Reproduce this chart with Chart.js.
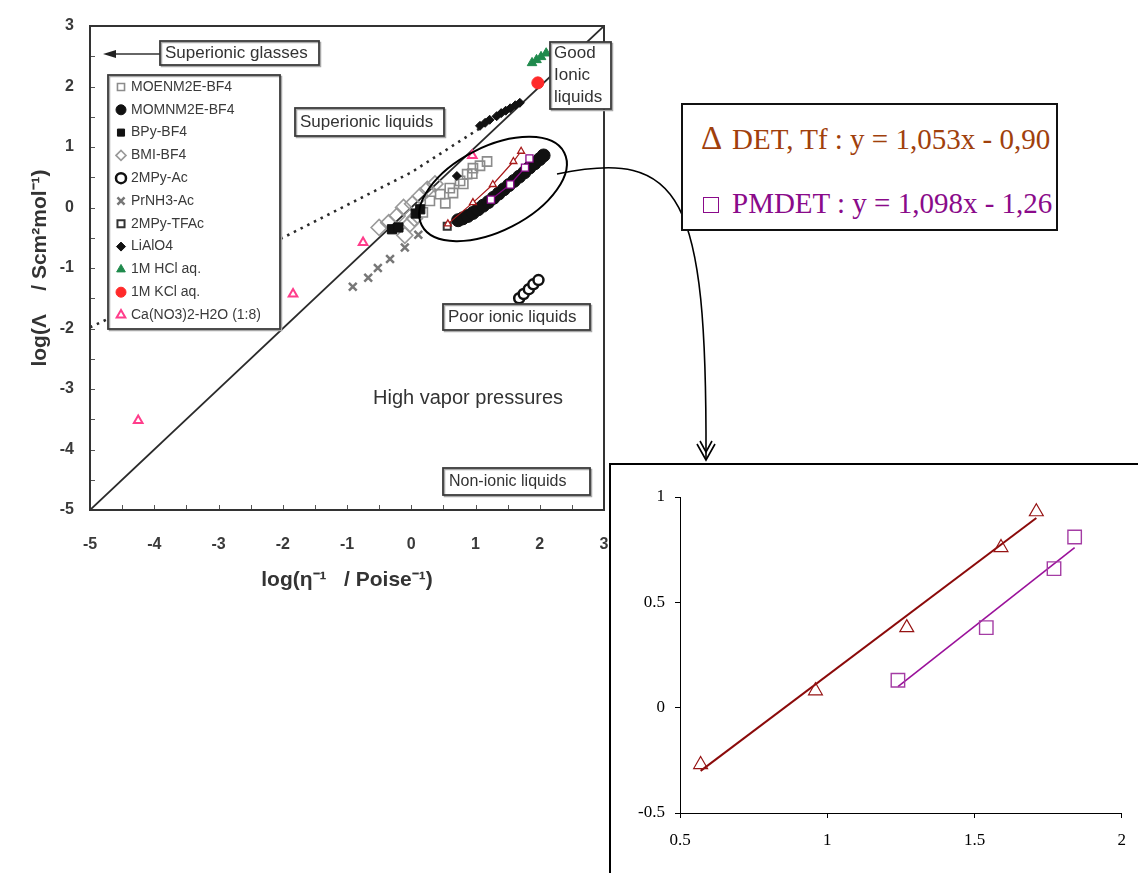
<!DOCTYPE html>
<html><head><meta charset="utf-8">
<script src="https://cdn.jsdelivr.net/npm/chart.js@4.4.1/dist/chart.umd.min.js"></script>
<style>
html,body{margin:0;padding:0;background:#fff;}
body{width:1138px;height:873px;overflow:hidden;position:relative;}
#main{position:absolute;left:0;top:0;}
#insetBox{position:absolute;left:609px;top:463px;width:529px;height:410px;border-left:2px solid #000;border-top:2px solid #000;background:#fff;box-sizing:border-box;}
#inset{position:absolute;left:0;top:0;}
#eq{position:absolute;left:681px;top:103px;width:377px;height:128px;border:2px solid #111;box-sizing:border-box;background:#fff;font-family:"Liberation Serif","Times New Roman",serif;}
#eq span{position:absolute;white-space:pre;line-height:29px;}
.l1{color:#a0400c;font-size:29px;}
.l2{color:#8a0a8a;font-size:29px;}
.sq{width:14px;height:14px;border:1.5px solid #8a0a8a;}
</style></head>
<body>
<canvas id="main" width="1138" height="873"></canvas>
<div id="insetBox"><canvas id="inset" width="527" height="408"></canvas></div>
<div id="eq">
  <span class="l1" style="left:18px;top:17px;font-size:33px;line-height:33px;">Δ</span>
  <span class="l1" style="left:49px;top:20px;">DET, Tf : y = 1,053x - 0,90</span>
  <span class="sq" style="left:20px;top:92px;"></span>
  <span class="l2" style="left:49px;top:84px;">PMDET : y = 1,098x - 1,26</span>
</div>
<script>
// ---------- data ----------
const waldenIdeal   = [[-5,-5],[3,3]];
const dottedBoundary= [[-5,-1.98],[-2,-0.5],[0,0.58],[1.2,1.4]];
const moenm2eBF4 = [[0.18,-0.08],[0.29,0.11],[0.45,0.22],[0.53,0.07],[0.6,0.32],[0.65,0.24],[0.76,0.44],[0.81,0.39],[0.87,0.55],[0.95,0.56],[0.96,0.65],[1.07,0.69],[1.18,0.76]];
const momnm2eBF4 = [[0.73,-0.21],[0.8,-0.18],[0.88,-0.14],[0.96,-0.09],[1.04,-0.03],[1.12,0.03],[1.2,0.09],[1.28,0.16],[1.36,0.23],[1.44,0.3],[1.52,0.37],[1.6,0.44],[1.68,0.51],[1.76,0.58],[1.84,0.66],[1.92,0.73],[2.0,0.8],[2.06,0.86]];
const bpyBF4     = [[-0.3,-0.36],[-0.2,-0.33],[0.07,-0.1],[0.14,-0.03]];
const bmiBF4     = [[-0.5,-0.33],[-0.35,-0.25],[-0.22,-0.14],[-0.12,0.0],[0.02,0.06],[0.14,0.19],[0.25,0.3],[0.37,0.39],[-0.02,-0.27],[-0.1,-0.46],[0.05,-0.18]];
const mpyAc      = [[1.68,-1.5],[1.75,-1.43],[1.83,-1.35],[1.9,-1.27],[1.98,-1.2]];
const prnh3Ac    = [[-0.91,-1.31],[-0.67,-1.16],[-0.52,-1.0],[-0.33,-0.85],[-0.1,-0.66],[0.11,-0.45]];
const mpyTFAc    = [[0.56,-0.31]];
const lialo4     = [[0.71,0.52],[1.07,1.35],[1.15,1.4],[1.22,1.45],[1.33,1.51],[1.4,1.56],[1.47,1.6],[1.54,1.64],[1.62,1.69],[1.69,1.73]];
const hclAq      = [[1.88,2.39],[1.95,2.44],[2.02,2.49],[2.1,2.55]];
const kclAq      = [[1.97,2.06]];
const caNO3      = [[-4.25,-3.52],[-1.84,-1.43],[-0.75,-0.58],[0.95,0.86]];
const detTf      = [[0.57,-0.27],[0.96,0.08],[1.27,0.38],[1.59,0.76],[1.71,0.93]];
const pmdet      = [[1.24,0.13],[1.54,0.38],[1.77,0.66],[1.84,0.81]];
const detFit     = [[0.57,-0.30],[1.71,0.90]];
const pmdetFit   = [[1.24,0.10],[1.84,0.76]];
const mainTicks  = [-5,-4,-3,-2,-1,0,1,2,3];
const insetXTicks= [0.5,1,1.5,2];
const insetYTicks= [-0.5,0,0.5,1];

const pts = a => a.map(p => ({x:p[0], y:p[1]}));
const T = 'rgba(0,0,0,0)';
const SANS = '"Liberation Sans", Arial, sans-serif';
const SERIF = '"Liberation Serif", "Times New Roman", serif';
const plain = v => String(v);

function sc(label, arr, o){
  return Object.assign({label, data: pts(arr), showLine:false, pointRadius:5, pointHoverRadius:5, pointBorderWidth:1, leg:true}, o);
}

const mainDatasets = [
  {label:'Ideal', data:pts(waldenIdeal), showLine:true, borderColor:'#2a2a2a', borderWidth:1.8, pointRadius:0, order:40},
  {label:'Boundary', data:pts(dottedBoundary), showLine:true, borderColor:'#2a2a2a', borderWidth:2.6, borderDash:[2.5,5], pointRadius:0, order:39},
  sc('MOENM2E-BF4', moenm2eBF4, {pointStyle:'rect', pointRadius:6.5, pointBorderColor:'#8c8c8c', pointBackgroundColor:T, pointBorderWidth:1.6, order:30}),
  sc('MOMNM2E-BF4', momnm2eBF4, {pointStyle:'circle', pointRadius:6.5, pointBorderColor:'#111', pointBackgroundColor:'#111', order:12}),
  sc('BPy-BF4', bpyBF4, {pointStyle:'rect', pointRadius:6.5, pointBorderColor:'#111', pointBackgroundColor:'#111', order:13}),
  sc('BMI-BF4', bmiBF4, {pointStyle:'rectRot', pointRadius:8, pointBorderColor:'#999', pointBackgroundColor:T, pointBorderWidth:1.6, order:31}),
  sc('2MPy-Ac', mpyAc, {pointStyle:'circle', pointRadius:5, pointBorderColor:'#111', pointBackgroundColor:'#fff', pointBorderWidth:2.5, order:14}),
  sc('PrNH3-Ac', prnh3Ac, {pointStyle:'crossRot', pointRadius:5.5, pointBorderColor:'#777', pointBackgroundColor:'#777', pointBorderWidth:2.5, order:15}),
  sc('2MPy-TFAc', mpyTFAc, {pointStyle:'rect', pointRadius:5, pointBorderColor:'#333', pointBackgroundColor:'#fff', pointBorderWidth:2, order:16}),
  sc('LiAlO4', lialo4, {pointStyle:'rectRot', pointRadius:4.5, pointBorderColor:'#111', pointBackgroundColor:'#111', order:17}),
  sc('1M HCl aq.', hclAq, {pointStyle:'triangle', pointRadius:5.5, pointBorderColor:'#1f8a4c', pointBackgroundColor:'#1f8a4c', order:18}),
  sc('1M KCl aq.', kclAq, {pointStyle:'circle', pointRadius:6, pointBorderColor:'#ff2a2a', pointBackgroundColor:'#ff2a2a', order:19}),
  sc('Ca(NO3)2-H2O (1:8)', caNO3, {pointStyle:'triangle', pointRadius:5, pointBorderColor:'#ff3d8b', pointBackgroundColor:'#fff', pointBorderWidth:2, order:20}),
  {label:'DET, Tf', data:pts(detTf), showLine:true, borderColor:'#a81a1a', borderWidth:1.2, pointStyle:'triangle', pointRadius:4, pointBorderColor:'#a81a1a', pointBackgroundColor:'#fff', pointBorderWidth:1.3, order:1},
  {label:'PMDET', data:pts(pmdet), showLine:true, borderColor:'#8a0a8a', borderWidth:1.2, pointStyle:'rect', pointRadius:5, pointBorderColor:'#8a0a8a', pointBackgroundColor:'#fff', pointBorderWidth:1.3, order:2}
];

function marker(ctx, ds, x, y){
  ctx.save();
  ctx.fillStyle = ds.pointBackgroundColor; ctx.strokeStyle = ds.pointBorderColor; ctx.lineWidth = ds.pointBorderWidth;
  const o = {pointStyle: ds.pointStyle, rotation:0, radius: ds.pointRadius, borderWidth: ds.pointBorderWidth};
  if (Chart.helpers && Chart.helpers.drawPoint) Chart.helpers.drawPoint(ctx, o, x, y);
  else { ctx.beginPath(); ctx.arc(x,y,o.radius,0,Math.PI*2); ctx.fill(); ctx.stroke(); }
  ctx.restore();
}

function box(ctx, x1, y1, x2, y2){
  ctx.save();
  ctx.fillStyle = '#fff'; ctx.fillRect(x1, y1, x2-x1, y2-y1);
  ctx.strokeStyle = '#a8a8a8'; ctx.lineWidth = 1.5; ctx.strokeRect(x1+1.5, y1+1.5, x2-x1, y2-y1);
  ctx.strokeStyle = '#3a3a3a'; ctx.lineWidth = 1.8; ctx.strokeRect(x1, y1, x2-x1, y2-y1);
  ctx.restore();
}
function txt(ctx, s, x, y, size, opt){
  ctx.save();
  ctx.font = (opt && opt.bold ? 'bold ' : '') + size + 'px ' + SANS;
  ctx.fillStyle = (opt && opt.color) || '#333';
  ctx.textBaseline = 'middle'; ctx.textAlign = 'left';
  ctx.fillText(s, x, y);
  ctx.restore();
}

const annotPlugin = {
  id: 'annot',
  afterDatasetsDraw(chart){
    const ctx = chart.ctx, a = chart.chartArea, xs = chart.scales.x, ys = chart.scales.y;
    ctx.save();
    // inner minor ticks every 0.5
    ctx.strokeStyle = '#555'; ctx.lineWidth = 1;
    for (let i = 0; i <= 16; i++){
      const v = -5 + i*0.5;
      const px = Math.round(xs.getPixelForValue(v)) + 0.5;
      ctx.beginPath(); ctx.moveTo(px, a.bottom); ctx.lineTo(px, a.bottom-5); ctx.stroke();
      const py = Math.round(ys.getPixelForValue(v)) + 0.5;
      ctx.beginPath(); ctx.moveTo(a.left, py); ctx.lineTo(a.left+5, py); ctx.stroke();
    }
    // frame
    ctx.strokeStyle = '#333'; ctx.lineWidth = 2;
    ctx.strokeRect(a.left, a.top, a.right-a.left, a.bottom-a.top);

    // Superionic glasses box + arrow
    box(ctx, 160, 41, 319, 65);
    txt(ctx, 'Superionic glasses', 165, 53.5, 17);
    ctx.strokeStyle = '#333'; ctx.lineWidth = 1.5;
    ctx.beginPath(); ctx.moveTo(160, 54); ctx.lineTo(112, 54); ctx.stroke();
    ctx.fillStyle = '#222';
    ctx.beginPath(); ctx.moveTo(103, 54); ctx.lineTo(116, 50); ctx.lineTo(116, 58); ctx.closePath(); ctx.fill();

    box(ctx, 295, 108, 444, 136);
    txt(ctx, 'Superionic liquids', 300, 122, 17);

    box(ctx, 550, 42, 611, 109);
    txt(ctx, 'Good', 554, 53, 17);
    txt(ctx, 'Ionic', 554, 75, 17);
    txt(ctx, 'liquids', 554, 97, 17);

    box(ctx, 443, 304, 590, 330);
    txt(ctx, 'Poor ionic liquids', 448, 317, 17);

    box(ctx, 443, 468, 590, 495);
    txt(ctx, 'Non-ionic liquids', 449, 481.5, 16);

    txt(ctx, 'High vapor pressures', 373, 398, 20);

    // legend
    box(ctx, 108, 75, 280, 329);
    let row = 0;
    chart.data.datasets.forEach(ds => {
      if (!ds.leg) return;
      const y = 87 + row*22.8;
      marker(ctx, Object.assign({}, ds, {pointRadius: Math.min(ds.pointRadius, 5)}), 121, y);
      txt(ctx, ds.label, 131, y, 14, {color:'#3a3a3a'});
      row++;
    });

    // ellipse around the new data
    ctx.strokeStyle = '#000'; ctx.lineWidth = 2;
    ctx.beginPath(); ctx.ellipse(493, 189, 80, 42, -27*Math.PI/180, 0, Math.PI*2); ctx.stroke();
    // curved arrow to the inset
    ctx.lineWidth = 1.6;
    ctx.beginPath(); ctx.moveTo(557, 174); ctx.bezierCurveTo(682, 148, 707, 195, 706, 458); ctx.stroke();
    ctx.beginPath(); ctx.moveTo(697, 444); ctx.lineTo(706, 460); ctx.lineTo(715, 444); ctx.stroke();
    ctx.beginPath(); ctx.moveTo(700, 441); ctx.lineTo(706, 452); ctx.lineTo(712, 441); ctx.stroke();
    ctx.restore();
  }
};

new Chart(document.getElementById('main'), {
  type: 'scatter',
  data: { datasets: mainDatasets },
  options: {
    responsive:false, animation:false, devicePixelRatio:1,
    layout: { padding: { left:0, right:534, top:26, bottom:277 } },
    plugins: { legend:{display:false}, tooltip:{enabled:false} },
    scales: {
      x: { type:'linear', min:-5, max:3,
           afterFit: s => { s.height = 86; },
           afterBuildTicks: s => { s.ticks = mainTicks.map(v => ({value:v})); },
           grid:{display:false, drawTicks:false}, border:{display:false},
           ticks:{ padding:25, color:'#3a3a3a', callback: plain, font:{family:SANS, size:16, weight:'bold'} },
           title:{ display:true, text:'log(η⁻¹   / Poise⁻¹)', color:'#333', padding:{top:0,bottom:3}, font:{family:SANS, size:21, weight:'bold'} } },
      y: { type:'linear', min:-5, max:3,
           afterFit: s => { s.width = 90; },
           afterBuildTicks: s => { s.ticks = mainTicks.map(v => ({value:v})); },
           grid:{display:false, drawTicks:false}, border:{display:false},
           ticks:{ padding:16, color:'#3a3a3a', callback: plain, font:{family:SANS, size:16, weight:'bold'} },
           title:{ display:true, text:'log(Λ    / Scm²mol⁻¹)', color:'#333', padding:{top:28,bottom:0}, font:{family:SANS, size:21, weight:'bold'} } }
    }
  },
  plugins: [annotPlugin]
});

new Chart(document.getElementById('inset'), {
  type: 'scatter',
  data: { datasets: [
    {label:'DET, Tf', data:pts(detTf), showLine:false, pointStyle:'triangle', pointRadius:8, pointBorderColor:'#961414', pointBackgroundColor:T, pointBorderWidth:1.2, order:1},
    {label:'PMDET', data:pts(pmdet), showLine:false, pointStyle:'rect', pointRadius:9.5, pointBorderColor:'#a43ca4', pointBackgroundColor:T, pointBorderWidth:1.4, order:2},
    {label:'DET fit', data:pts(detFit), showLine:true, borderColor:'#8b0a0a', borderWidth:2, pointRadius:0, order:3},
    {label:'PMDET fit', data:pts(pmdetFit), showLine:true, borderColor:'#9a119a', borderWidth:1.6, pointRadius:0, order:4}
  ]},
  options: {
    responsive:false, animation:false, devicePixelRatio:1,
    layout: { padding: { left:0, right:11, top:32, bottom:0 } },
    plugins: { legend:{display:false}, tooltip:{enabled:false} },
    scales: {
      x: { type:'linear', min:0.5, max:2,
           afterFit: s => { s.height = 60; },
           afterBuildTicks: s => { s.ticks = insetXTicks.map(v => ({value:v})); },
           grid:{ drawOnChartArea:false, drawTicks:true, tickLength:5, color:'#000' },
           border:{ display:true, color:'#000', width:1 },
           ticks:{ padding:12, color:'#000', callback: plain, font:{family:SERIF, size:17} } },
      y: { type:'linear', min:-0.5, max:1,
           afterFit: s => { s.width = 69; },
           afterBuildTicks: s => { s.ticks = insetYTicks.map(v => ({value:v})); },
           grid:{ drawOnChartArea:false, drawTicks:true, tickLength:5, color:'#000' },
           border:{ display:true, color:'#000', width:1 },
           ticks:{ padding:10, color:'#000', callback: plain, font:{family:SERIF, size:17} } }
    }
  }
});
</script>
</body></html>
